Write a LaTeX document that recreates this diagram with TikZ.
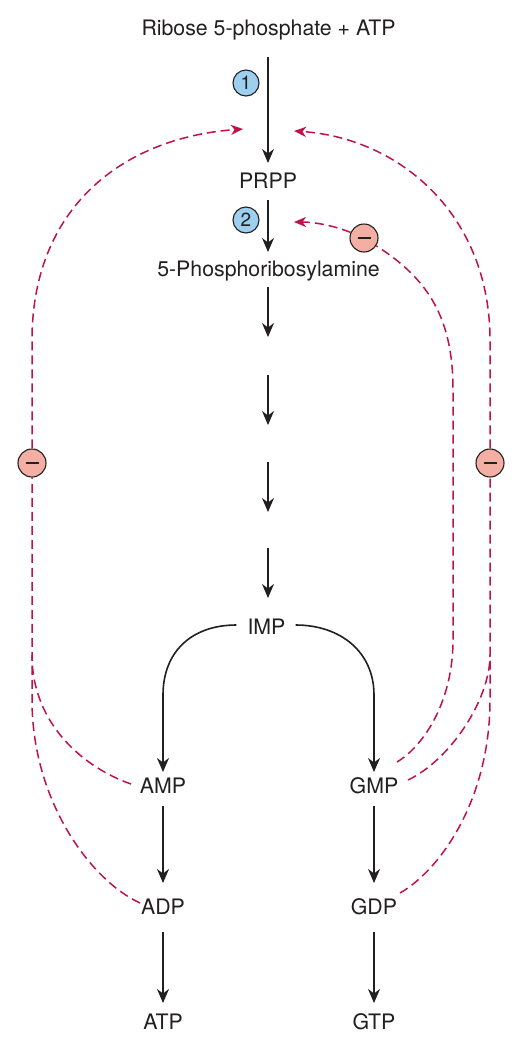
\documentclass[tikz,border=0pt]{standalone}
\usepackage{fontspec}
\setmainfont{TeX Gyre Heros}
\usetikzlibrary{arrows.meta,calc}
\definecolor{inh}{RGB}{192,18,74}
\definecolor{enzb}{RGB}{157,207,239}
\definecolor{inhf}{RGB}{244,175,165}
\definecolor{ink}{RGB}{35,31,32}
\begin{document}
\begin{tikzpicture}[x=1pt,y=-1pt,
 lbl/.style={font=\fontsize{21.3}{25}\selectfont, text=ink, inner sep=0pt, text height=15pt, text depth=0pt},
 flow/.style={draw=ink, line width=1.6pt, -{Stealth[length=14pt,width=12pt,inset=4.5pt]}},
 fb/.style={draw=inh, line width=1.5pt, dash pattern=on 9pt off 5pt},
 fbarr/.style={fb, -{Stealth[length=12pt,width=10pt,inset=3.5pt]}},
 enz/.style={circle, draw=ink, line width=1.1pt, fill=enzb, minimum size=26pt, inner sep=0pt, font=\fontsize{19}{20}\selectfont, text=ink},
 minus/.style={circle, draw=ink, line width=1.1pt, fill=inhf, minimum size=28pt, inner sep=0pt,
   path picture={\draw[ink, line width=2pt] ([xshift=-6.5pt]path picture bounding box.center) -- ([xshift=6.5pt]path picture bounding box.center);}}
]
\useasboundingbox[fill=white] (0,0) rectangle (523,1053);

% labels
\node[lbl] (rib) at (268.5,28) {Ribose 5-phosphate + ATP};
\node[lbl] (prpp) at (268,181) {PRPP};
\node[lbl] (pra) at (268.5,269) {5-Phosphoribosylamine};
\node[lbl] (imp) at (266.5,627) {IMP};
\node[lbl] (amp) at (163,786) {AMP};
\node[lbl] (gmp) at (374,786) {GMP};
\node[lbl] (adp) at (163,907) {ADP};
\node[lbl] (gdp) at (374,907) {GDP};
\node[lbl] (atp) at (163,1022) {ATP};
\node[lbl] (gtp) at (374,1022) {GTP};

% enzymes and inhibition marks
\node[enz] (e1) at (246,83) {1};
\node[enz] (e2) at (246,220) {2};
\node[minus] (mL) at (32,463) {};
\node[minus] (mR) at (490,463) {};
\node[minus] (m2) at (364,238) {};

% main pathway
\draw[flow] ($(rib.center)+(-0.5,29)$) -- ($(prpp.center)+(0,-18)$);
\draw[flow] ($(prpp.center)+(0,19)$) -- ($(pra.center)+(-0.5,-17)$);
\coordinate (a1) at (268,287); \coordinate (b1) at (268,337);
\coordinate (a2) at (268,375); \coordinate (b2) at (268,425);
\coordinate (a3) at (268,462); \coordinate (b3) at (268,512);
\coordinate (a4) at (268,548); \coordinate (b4) at (268,598);
\draw[flow] (a1) -- (b1);
\draw[flow] (a2) -- (b2);
\draw[flow] (a3) -- (b3);
\draw[flow] (a4) -- (b4);

\draw[flow] ($(imp.west)+(-11,-2)$) .. controls +(-45,0) and +(0,-43) .. (163,695) -- ($(amp.center)+(0,-14)$);
\draw[flow] ($(imp.east)+(10,-2)$) .. controls +(45,0) and +(0,-43) .. (374,695) -- ($(gmp.center)+(0,-14)$);
\draw[flow] ($(amp.center)+(0,20)$) -- ($(adp.center)+(0,-24)$);
\draw[flow] ($(gmp.center)+(0,20)$) -- ($(gdp.center)+(0,-24)$);
\draw[flow] ($(adp.center)+(0,25)$) -- ($(atp.center)+(0,-19)$);
\draw[flow] ($(gdp.center)+(0,25)$) -- ($(gtp.center)+(0,-19)$);

% feedback ends
\coordinate (adpL) at (140,903);
\coordinate (ampL) at (131,784);
\coordinate (gmpR1) at (397,762);
\coordinate (gmpR2) at (408,780);
\coordinate (gdpR) at (400,893);
\coordinate (t1L) at (243,129);
\coordinate (t1R) at (294,131);
\coordinate (t2R) at (294,222);

% left feedback
\draw[fb] (adpL) .. controls (90,880) and (32,800) .. (32,700) -- (mL.south);
\draw[fbarr] (mL.north) -- (32,340) .. controls (32,210) and (120,138) .. (t1L);
\draw[fb] (ampL) .. controls (85,768) and (32,725) .. (32,655);

% right feedback
\draw[fb] (gdpR) .. controls (440,870) and (490,800) .. (490,700) -- (mR.south);
\draw[fbarr] (mR.north) -- (490,340) .. controls (490,215) and (400,138) .. (t1R);
\draw[fb] (gmpR2) .. controls (450,760) and (490,700) .. (490,655);
\draw[fb] (gmpR1) .. controls (425,745) and (453,700) .. (453,640) -- (453,390) .. controls (453,320) and (430,280) .. (m2);
\draw[fbarr] (m2) .. controls (335,226) and (315,222) .. (t2R);
\end{tikzpicture}
\end{document}
